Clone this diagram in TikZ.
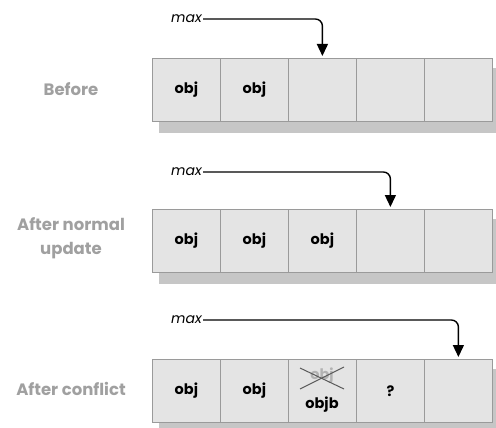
\documentclass[tikz,border=0pt]{standalone}
\usepackage{fontspec}
\setmainfont{Poppins}
\usetikzlibrary{arrows.meta}
\definecolor{cellfill}{HTML}{E4E4E4}
\definecolor{cellline}{HTML}{9A9A9A}
\definecolor{shadowc}{HTML}{C6C6C6}
\definecolor{labelc}{HTML}{A0A0A0}
\tikzset{
  cellfont/.style={font=\fontsize{14.5}{16}\selectfont\bfseries},
  cell/.style={draw=cellline, line width=0.8pt, fill=cellfill, minimum width=68pt, minimum height=63pt, inner sep=0pt, anchor=north west, cellfont},
  rowlabel/.style={text=labelc, font=\fontsize{16.5}{24}\selectfont\bfseries, align=center},
  maxlabel/.style={font=\fontsize{14}{16}\selectfont\itshape, inner sep=1pt, anchor=east},
  ptr/.style={line width=1.4pt, rounded corners=7pt, -{Triangle[length=12pt,width=11pt]}, shorten >=2pt},
  crossline/.style={gray!70!black, line width=1pt}
}
\begin{document}
\begin{tikzpicture}[x=1pt,y=-1pt]
\useasboundingbox (0,0) rectangle (496,428);
% shadows
\foreach \top in {58,209,359}{
  \fill[shadowc] (159,\top+10) rectangle (501,\top+75);
}
% row 1
\foreach \i/\t in {1/obj,2/obj,3/,4/,5/}{
  \node[cell] (r1c\i) at ({152+68*(\i-1)},58) {\t};
}
\foreach \i/\t in {1/obj,2/obj,3/obj,4/,5/}{
  \node[cell] (r2c\i) at ({152+68*(\i-1)},209) {\t};
}
\foreach \i/\t in {1/obj,2/obj,3/,4/?,5/}{
  \node[cell] (r3c\i) at ({152+68*(\i-1)},359) {\t};
}
% crossed-out entry
\node[text=gray!60, cellfont, inner sep=0pt] (old) at (322,376) {obj};
\draw[crossline] (300,389) -- (344,367);
\draw[crossline] (300,368) -- (344,389);
\node[cellfont, inner sep=0pt] (newobj) at (322,405) {objb};
% row labels
\node[rowlabel] (l1) at (71,89) {Before};
\node[rowlabel] (l2) at (71,238) {After normal\\update};
\node[rowlabel] (l3) at (71,389) {After conflict};
% max pointers
\node[maxlabel] (m1) at (203,19) {max};
\node[maxlabel] (m2) at (203,172) {max};
\node[maxlabel] (m3) at (203,320) {max};
\draw[ptr] (m1.east) -| (r1c3.north);
\draw[ptr] (m2.east) -| (r2c4.north);
\draw[ptr] (m3.east) -| (r3c5.north);
\end{tikzpicture}
\end{document}
